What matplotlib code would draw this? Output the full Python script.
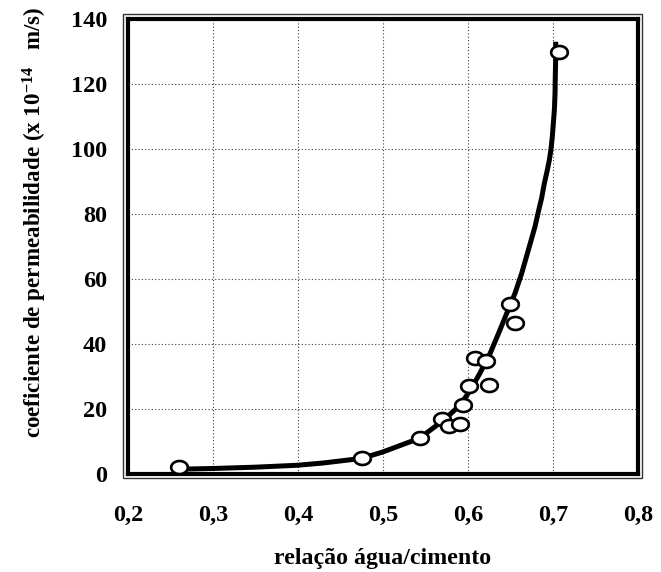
import numpy as np
import matplotlib
matplotlib.use('Agg')
import matplotlib.pyplot as plt
from matplotlib.patches import Rectangle

plt.rcParams['font.family'] = ['Liberation Serif', 'DejaVu Serif']
plt.rcParams['font.weight'] = 'bold'
plt.rcParams['mathtext.fontset'] = 'custom'
plt.rcParams['mathtext.rm'] = 'Liberation Serif:bold'
plt.rcParams['mathtext.bf'] = 'Liberation Serif:bold'
plt.rcParams['mathtext.it'] = 'Liberation Serif:bold'

#%%
# measured points (a/c, k x 1e-14 m/s)
ac_pts = [0.260, 0.475, 0.543, 0.570, 0.578, 0.591, 0.594, 0.601, 0.625, 0.608, 0.621, 0.649, 0.655, 0.707]
k_pts = [2.3, 5.0, 11.0, 17.0, 14.8, 15.3, 21.1, 27.1, 27.4, 35.6, 34.9, 52.2, 46.4, 129.7]

# fitted curve
ac_fit = [0.265, 0.30, 0.35, 0.40, 0.43, 0.475, 0.50, 0.543, 0.57, 0.59, 0.602, 0.614,
          0.626, 0.636, 0.6455, 0.6553, 0.6631, 0.671, 0.6788, 0.6835, 0.6867, 0.6898,
          0.6933, 0.6957, 0.6976, 0.6992, 0.7004, 0.7016, 0.7024, 0.7027, 0.7031, 0.7032]
k_fit = [1.5, 1.7, 2.1, 2.7, 3.4, 4.8, 6.8, 11.0, 16.3, 21.0, 25.5, 31.0,
         37.1, 43.3, 49.4, 55.6, 61.7, 68.9, 76.1, 81.5, 85.0, 89.4,
         93.5, 96.6, 99.9, 103.8, 107.9, 112.0, 117.1, 122.2, 127.4, 133.0]

x_ticks = [0.2, 0.3, 0.4, 0.5, 0.6, 0.7, 0.8]
x_ticklabels = ['0,2', '0,3', '0,4', '0,5', '0,6', '0,7', '0,8']
y_ticks = [0, 20, 40, 60, 80, 100, 120, 140]

#%%
W, H = 661, 572
fig = plt.figure(figsize=(W / 100, H / 100), dpi=100)
x0, x1, y0, y1 = 128, 638, 19, 474  # axes box in pixels (top-left origin)
ax = fig.add_axes([x0 / W, 1 - y1 / H, (x1 - x0) / W, (y1 - y0) / H])

ax.plot(ac_fit, k_fit, color='black', lw=3.6, solid_joinstyle='round', solid_capstyle='butt', zorder=3)

t = np.linspace(0, 2 * np.pi, 60)
ellipse = np.column_stack([np.cos(t), 0.78 * np.sin(t)])
ax.plot(ac_pts, k_pts, ls='none', marker=ellipse, ms=12, mfc='white', mec='black', mew=1.9, zorder=4)

ax.set_xlim(0.2, 0.8)
ax.set_ylim(0, 140)
ax.set_xticks(x_ticks)
ax.set_xticklabels(x_ticklabels)
ax.set_yticks(y_ticks)
ax.tick_params(axis='x', length=0, pad=22, labelsize=17.5)
ax.tick_params(axis='y', length=0, pad=15, labelsize=17.5)
ax.grid(True, color='0.25', ls=(0, (1, 2)), lw=0.8)
ax.set_axisbelow(True)
for s in ax.spines.values():
    s.set_linewidth(3.0)

ax.set_xlabel('relação água/cimento', fontsize=17.2, fontweight='bold', va='center')
ax.xaxis.set_label_coords(0.5, -0.185)
ax.set_ylabel('coeficiente de permeabilidade (x 10$^{-14}$   m/s)', fontsize=16.6, fontweight='bold', va='center')
ax.yaxis.set_label_coords(-0.183, 0.553)

# thin outer frame
fig.patches.append(Rectangle(((x0 - 5) / W, 1 - (y1 + 4) / H), (x1 - x0 + 9) / W, (y1 - y0 + 9) / H,
                             transform=fig.transFigure, fill=False, ec='0.2', lw=1.0))

fig.savefig('out.png', dpi=100)
